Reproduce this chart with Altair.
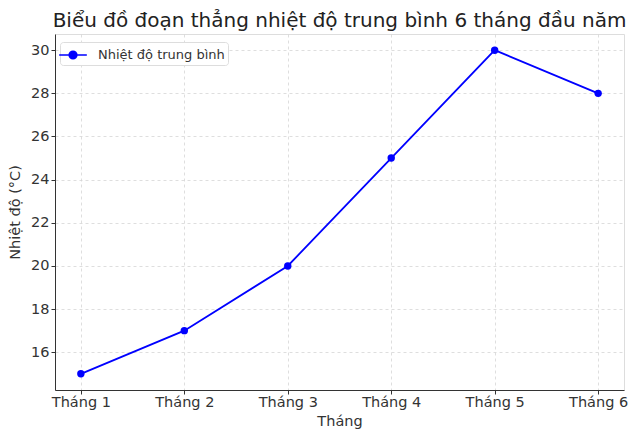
import altair as alt
import pandas as pd

months = ["Tháng 1", "Tháng 2", "Tháng 3", "Tháng 4", "Tháng 5", "Tháng 6"]
temps = [15, 17, 20, 25, 30, 28]
series = ["Nhiệt độ trung bình"] * 6
y_ticks = [16, 18, 20, 22, 24, 26, 28, 30]

df = pd.DataFrame({"Tháng": months, "temp": temps, "series": series})

FONT = "DejaVu Sans"
legend_shape = "M-1.5,0H1.5M0.42,0A0.42,0.42,0,1,1,-0.42,0A0.42,0.42,0,1,1,0.42,0Z"

axis_common = dict(
    grid=True, gridDash=[3, 3], gridColor="#d6d6d6", gridWidth=0.8,
    tickSize=4, tickColor="#333333", domainColor="#333333", labelFontSize=14.5,
    titleFontSize=14.5, labelColor="#333333", titleColor="#333333",
    labelFont=FONT, titleFont=FONT, titleFontWeight="normal",
)

base = alt.Chart(df).encode(
    x=alt.X(
        "Tháng:N",
        sort=months,
        scale=alt.Scale(type="point", padding=0.25),
        axis=alt.Axis(title="Tháng", labelAngle=0, labelPadding=1, titlePadding=6, **axis_common),
    ),
    y=alt.Y(
        "temp:Q",
        scale=alt.Scale(domain=[14.25, 30.75], nice=False, zero=False),
        axis=alt.Axis(title="Nhiệt độ (°C)", values=y_ticks, labelPadding=2, titlePadding=8, **axis_common),
    ),
    color=alt.Color(
        "series:N",
        scale=alt.Scale(range=["#0000ff"]),
        legend=alt.Legend(
            title=None, orient="none", legendX=5, legendY=8,
            symbolType=legend_shape, symbolSize=340, symbolFillColor="#0000ff",
            symbolStrokeColor="#0000ff", symbolStrokeWidth=1.5,
            labelFont=FONT, labelFontSize=13, labelColor="#333333", labelOffset=15,
            fillColor="white", strokeColor="#dddddd", cornerRadius=3, padding=3,
        ),
    ),
)

line = base.mark_line(strokeWidth=1.8)
points = base.mark_point(filled=True, size=55, opacity=1)

chart = (line + points).properties(
    width=569,
    height=356,
    title=alt.TitleParams(
        "Biểu đồ đoạn thẳng nhiệt độ trung bình 6 tháng đầu năm",
        font=FONT, fontSize=20, fontWeight="normal", color="#222222", offset=3,
    ),
    autosize=alt.AutoSizeParams(type="none"),
    padding={"left": 47, "top": 26, "right": 10, "bottom": 40},
).configure_view(stroke=None).configure(background="white")

chart.save("out.html", embed_options={"renderer": "svg", "actions": False})
